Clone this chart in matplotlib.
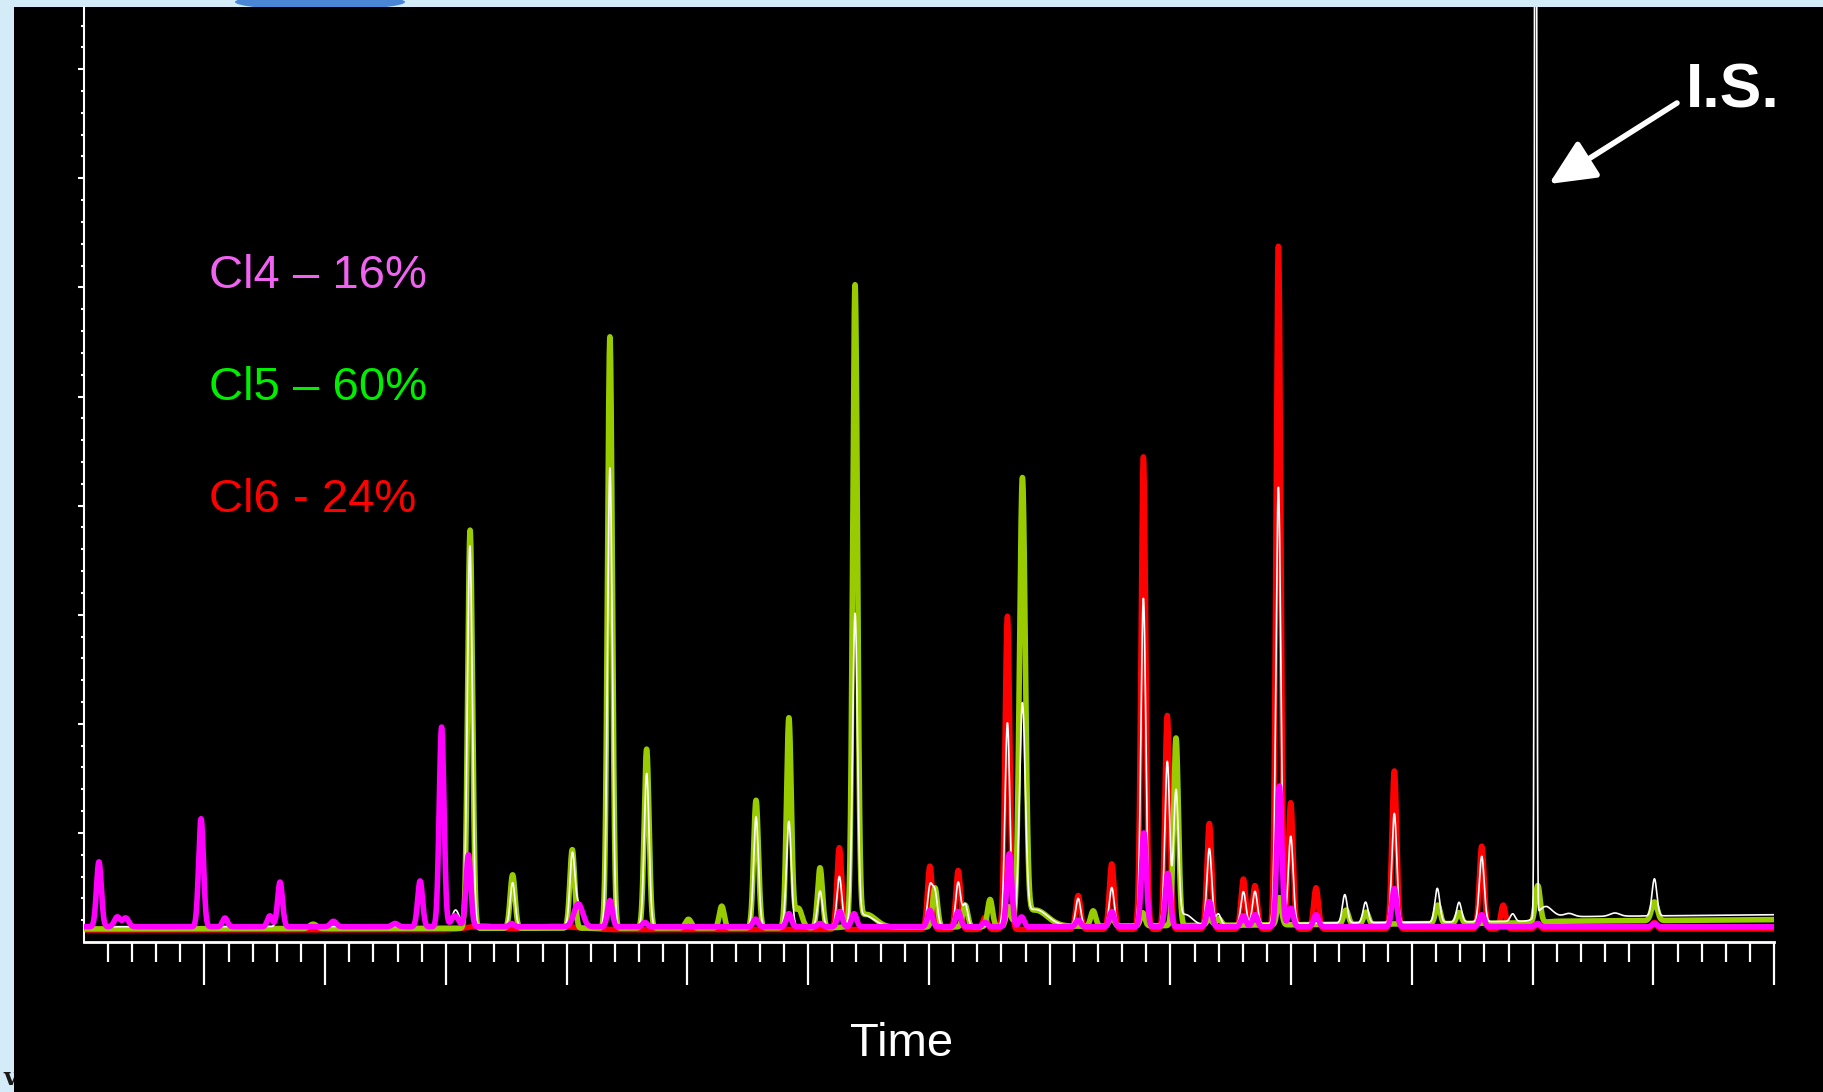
import numpy as np
import matplotlib
matplotlib.use("Agg")
import matplotlib.pyplot as plt
from matplotlib.patches import Ellipse

plt.rcParams['font.family'] = ['Liberation Sans', 'DejaVu Sans']

# retention time axis (min) and intensity (arbitrary units)
t = np.linspace(0, 70, 14001)

# peak tables: retention time, height above baseline, width (sigma)
cl4_t = [0.63, 1.39, 1.74, 4.86, 5.85, 7.71, 8.13, 10.34, 12.89, 13.93, 14.82, 15.37, 15.93,
         17.72, 20.48, 21.79, 23.24, 27.82, 29.2, 30.49, 31.31, 31.9, 35.04, 36.21, 37.32,
         38.33, 38.84, 41.18, 42.57, 43.9, 44.89, 46.61, 48.02, 48.5, 49.51, 49.98, 51.03,
         54.27, 57.89, 60.2, 65.04]
cl4_h = [5.95, 0.9, 0.8, 9.9, 0.8, 1.0, 4.1, 0.5, 0.3, 4.2, 18.3, 1.0, 6.6,
         0.3, 2.1, 2.4, 0.4, 0.7, 1.2, 0.3, 1.4, 1.2, 1.5, 1.4, 0.4,
         6.7, 0.9, 0.6, 1.4, 8.6, 4.9, 2.3, 1.0, 1.1, 12.9, 1.7, 1.1,
         3.5, 1.1, 0.3, 0.3]
cl4_w = [0.1, 0.12, 0.12, 0.1, 0.1, 0.1, 0.1, 0.12, 0.12, 0.1, 0.1, 0.15, 0.1,
         0.1, 0.18, 0.1, 0.1, 0.1, 0.1, 0.1, 0.1, 0.1, 0.1, 0.1, 0.1,
         0.1, 0.1, 0.1, 0.1, 0.1, 0.1, 0.1, 0.1, 0.1, 0.1, 0.1, 0.1,
         0.1, 0.1, 0.1, 0.1]

cl5_t = [9.5, 16.0, 17.76, 20.23, 21.79, 23.31, 25.04, 26.42, 27.84, 29.2, 29.59, 30.49,
         31.94, 32.4, 35.25, 36.5, 37.53, 38.29, 38.87, 39.4, 41.8, 42.57, 43.85, 45.23,
         46.61, 47.0, 49.51, 52.27, 53.1, 56.07, 56.95, 60.21, 65.04]
cl5_h = [0.4, 36.5, 4.9, 7.2, 54.2, 16.4, 0.8, 2.0, 11.7, 19.2, 1.8, 5.5,
         58.3, 1.2, 3.6, 2.0, 2.5, 1.7, 40.3, 1.5, 1.4, 0.8, 1.2, 17.2,
         0.6, 0.6, 2.5, 1.3, 1.1, 1.7, 1.0, 3.4, 1.7]
cl5_w = [0.15, 0.1, 0.1, 0.1, 0.1, 0.1, 0.12, 0.1, 0.1, 0.1, 0.15, 0.1,
         0.1, 0.4, 0.1, 0.1, 0.1, 0.09, 0.12, 0.5, 0.1, 0.1, 0.09, 0.1,
         0.1, 0.1, 0.09, 0.1, 0.1, 0.1, 0.1, 0.1, 0.12]

cl6_t = [16.5, 19.5, 31.29, 35.04, 36.21, 37.32, 38.25, 41.18, 42.57, 43.88, 44.87, 46.61,
         48.02, 48.5, 49.47, 49.98, 51.03, 54.27, 57.89, 58.78, 60.2, 65.04]
cl6_h = [0.35, 0.3, 7.5, 5.8, 5.4, 1.1, 28.7, 3.1, 6.0, 43.3, 19.6, 9.7,
         4.6, 4.0, 62.6, 11.6, 3.8, 14.5, 7.6, 2.2, 0.5, 0.6]
cl6_w = [0.6, 1.0, 0.1, 0.1, 0.1, 0.1, 0.1, 0.1, 0.1, 0.1, 0.1, 0.1,
         0.1, 0.1, 0.1, 0.1, 0.1, 0.1, 0.1, 0.1, 0.1, 0.1]

tot_t = [0.63, 4.86, 8.13, 13.93, 14.82, 15.4, 15.93, 16.0, 17.76, 20.23, 20.48, 21.79,
         23.31, 27.84, 29.2, 30.49, 31.29, 31.94, 32.3, 35.04, 35.25, 36.21, 36.5, 38.25,
         38.87, 39.4, 41.18, 42.57, 43.88, 44.87, 45.23, 45.6, 46.61, 46.98, 48.02, 48.5,
         49.47, 49.98, 52.22, 53.08, 54.27, 56.05, 56.95, 57.89, 59.17, 60.12, 60.5,
         61.5, 63.4, 65.04]
tot_h = [5.5, 9.5, 3.5, 3.8, 16.0, 1.5, 6.0, 30.0, 4.0, 6.0, 2.0, 42.0,
         14.0, 10.0, 9.6, 3.2, 4.5, 28.0, 1.0, 3.5, 3.0, 4.0, 2.0, 18.5,
         19.6, 1.5, 2.5, 3.5, 30.0, 15.0, 12.0, 1.0, 7.0, 1.0, 3.0, 3.0,
         40.0, 8.0, 2.6, 1.9, 10.0, 3.1, 1.8, 6.0, 0.7, 200.0, 1.0,
         0.3, 0.3, 3.4]
tot_w = [0.1, 0.1, 0.1, 0.1, 0.1, 0.15, 0.1, 0.1, 0.1, 0.1, 0.18, 0.1,
         0.1, 0.1, 0.1, 0.1, 0.1, 0.1, 0.4, 0.1, 0.1, 0.1, 0.1, 0.1,
         0.12, 0.5, 0.1, 0.1, 0.1, 0.1, 0.1, 0.3, 0.1, 0.1, 0.1, 0.1,
         0.1, 0.1, 0.1, 0.1, 0.1, 0.1, 0.1, 0.1, 0.1, 0.035, 0.3,
         0.2, 0.2, 0.1]

# baseline drift knots
cl4_bt, cl4_bv = [0, 70], [1.4, 1.4]
cl5_bt, cl5_bv = [0, 30, 45, 60, 61, 70], [1.2, 1.3, 1.5, 1.75, 1.9, 2.05]
cl6_bt, cl6_bv = [0, 70], [1.1, 1.2]
tot_bt, tot_bv = [0, 45, 50, 59.9, 60.6, 70], [1.4, 1.5, 1.7, 1.9, 2.3, 2.5]


def trace(pt, ph, pw, bt, bv):
    y = np.interp(t, bt, bv)
    for c, h, w in zip(pt, ph, pw):
        y = y + h * np.exp(-0.5 * ((t - c) / w) ** 2)
    return y


W, H = 1824, 1092
fig = plt.figure(figsize=(W / 100, H / 100), dpi=100, facecolor='#d4ecf8')

# slide background bits
fig.text(3 / W, 1 - 1085 / H, 'v', family='DejaVu Serif', weight='bold', fontsize=17,
         color='#1a1a1a', zorder=-3)
bg = fig.add_axes([14 / W, 0, 1 - 14 / W, 1 - 7 / H], zorder=-1)
bg.set_facecolor('black')
bg.set_xticks([])
bg.set_yticks([])
for s in bg.spines.values():
    s.set_visible(False)
fig.patches.append(Ellipse((320 / W, 1 - 2 / H), 170 / W, 16 / H, transform=fig.transFigure,
                           facecolor='#4a86d6', edgecolor='none', zorder=-2))

ax = fig.add_axes([83.7 / W, 150 / H, 1690.5 / W, 935 / H])
ax.set_facecolor('none')

ax.plot(t, trace(cl6_t, cl6_h, cl6_w, cl6_bt, cl6_bv), color='#ff0000', lw=4.0, zorder=2)
ax.plot(t, trace(cl5_t, cl5_h, cl5_w, cl5_bt, cl5_bv), color='#99cc00', lw=4.0, zorder=3)
ax.plot(t, trace(tot_t, tot_h, tot_w, tot_bt, tot_bv), color='white', lw=1.2, zorder=4)
ax.plot(t, trace(cl4_t, cl4_h, cl4_w, cl4_bt, cl4_bv), color='#ff00ff', lw=4.0, zorder=5)

ax.set_xlim(0, 70)
ax.set_ylim(0, 935 / 10.91)

ax.set_xticks(np.arange(5, 71, 5))
ax.set_xticks([i for i in range(1, 70) if i % 5], minor=True)
ax.set_yticks(np.arange(10, 81, 10))
ax.set_yticks([i for i in range(2, 85, 2) if i % 10], minor=True)
ax.tick_params(axis='x', which='major', direction='out', length=31, width=1.6, color='white',
               labelbottom=False)
ax.tick_params(axis='x', which='minor', direction='out', length=14.5, width=1.6, color='white')
ax.tick_params(axis='y', which='major', direction='out', length=4, width=1.5, color='white',
               labelleft=False)
ax.tick_params(axis='y', which='minor', direction='out', length=2.5, width=1.5, color='white')
for s in ['top', 'right']:
    ax.spines[s].set_visible(False)
ax.spines['left'].set_color('white')
ax.spines['left'].set_linewidth(1.5)
ax.spines['bottom'].set_color('white')
ax.spines['bottom'].set_linewidth(2)

fig.text(901.6 / W, 1 - 1056 / H, 'Time', color='white', fontsize=34, ha='center', va='baseline')
fig.text(209 / W, 1 - 288 / H, 'Cl4 \u2013 16%', color='#f062f0', fontsize=34, va='baseline')
fig.text(209 / W, 1 - 400 / H, 'Cl5 \u2013 60%', color='#00ee00', fontsize=34, va='baseline')
fig.text(209 / W, 1 - 512 / H, 'Cl6 - 24%', color='#ff0000', fontsize=34, va='baseline')
fig.text(1686 / W, 1 - 107 / H, 'I.S.', color='white', fontsize=45, weight='bold', va='baseline')

ax.annotate('', xy=(1549 / W, 1 - 184 / H), xycoords='figure fraction',
            xytext=(1677 / W, 1 - 103 / H), textcoords='figure fraction',
            arrowprops=dict(arrowstyle='-|>,head_length=1.4,head_width=0.65', lw=4,
                            color='white', mutation_scale=20, shrinkA=0, shrinkB=0))

plt.savefig("out.png", dpi=100, facecolor=fig.get_facecolor())
